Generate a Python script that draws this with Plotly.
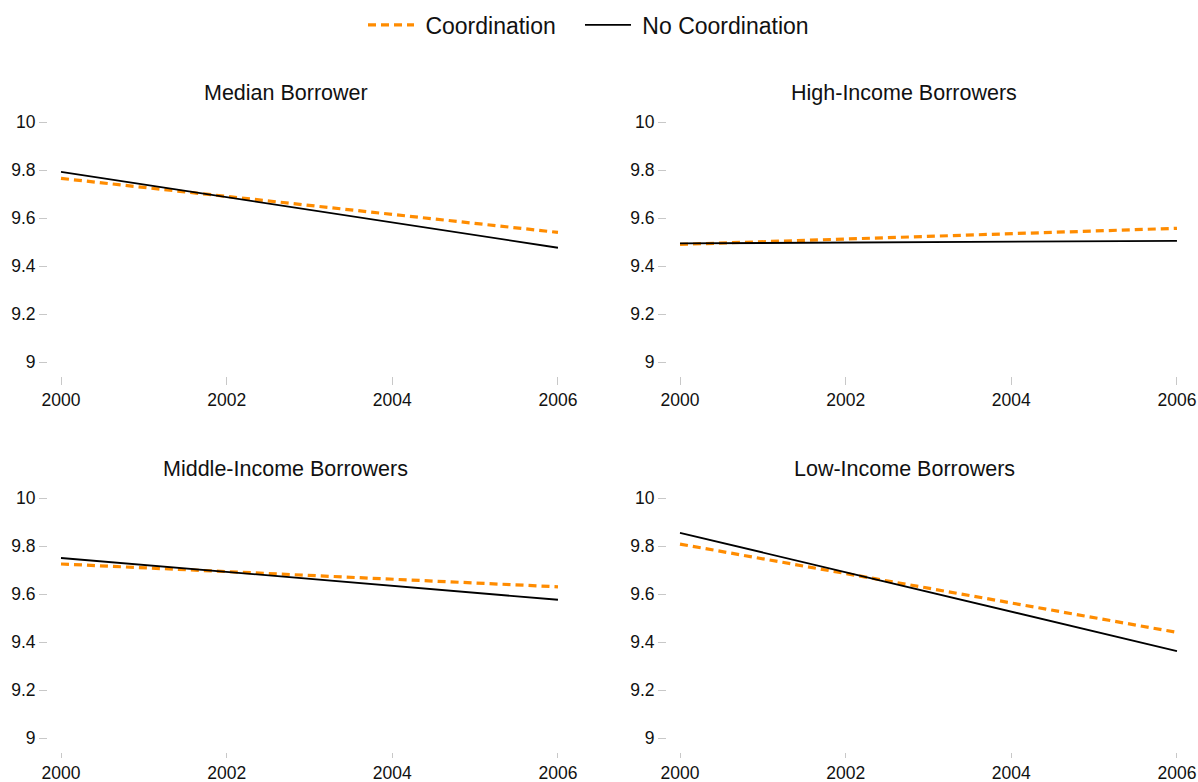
import plotly.graph_objects as go

# Fitted trend endpoints (log income-type outcome), by borrower group
years = [2000, 2006]
panels = ["Median Borrower", "High-Income Borrowers",
          "Middle-Income Borrowers", "Low-Income Borrowers"]

coord_median = [9.765, 9.540]
nocoord_median = [9.792, 9.476]
coord_high = [9.490, 9.557]
nocoord_high = [9.494, 9.505]
coord_middle = [9.725, 9.630]
nocoord_middle = [9.750, 9.576]
coord_low = [9.808, 9.440]
nocoord_low = [9.855, 9.362]

coord_series = [coord_median, coord_high, coord_middle, coord_low]
nocoord_series = [nocoord_median, nocoord_high, nocoord_middle, nocoord_low]

y_ticks = [9, 9.2, 9.4, 9.6, 9.8, 10]
y_ticktext = ["9", "9.2", "9.4", "9.6", "9.8", "10"]
x_ticks = [2000, 2002, 2004, 2006]

ORANGE = "#FF8C00"
FONT = "Liberation Sans, Arial, sans-serif"
NBSP = "\u00a0"

W, H = 1198, 782
# plot-area rectangles in pixels: (left, right, top, bottom)
boxes = [(48, 566, 110, 376), (667, 1185, 110, 376),
         (48, 566, 486, 752), (667, 1185, 486, 752)]
title_pos = [(285.5, 93), (904, 93), (285.5, 469), (904, 469)]
x_ticklen = [8, 8, 5, 5]

fig = go.Figure()
layout = dict(
    width=W, height=H,
    margin=dict(l=0, r=0, t=0, b=0, autoexpand=False),
    paper_bgcolor="white", plot_bgcolor="white",
    font=dict(family=FONT, color="#111111", size=17.5),
    showlegend=True,
    legend=dict(orientation="h", x=363 / W, xanchor="left",
                y=1 - 25 / H, yanchor="middle",
                font=dict(size=23), itemwidth=46),
    annotations=[],
)

for i in range(4):
    sfx = "" if i == 0 else str(i + 1)
    left, right, top, bottom = boxes[i]
    fig.add_trace(go.Scatter(
        x=years, y=coord_series[i], mode="lines",
        name=NBSP + "Coordination" + NBSP * 3,
        line=dict(color=ORANGE, width=3.2, dash="8px,5px"),
        xaxis="x" + sfx, yaxis="y" + sfx, showlegend=(i == 0),
        legendgroup="c"))
    fig.add_trace(go.Scatter(
        x=years, y=nocoord_series[i], mode="lines",
        name=NBSP + "No Coordination",
        line=dict(color="black", width=1.8),
        xaxis="x" + sfx, yaxis="y" + sfx, showlegend=(i == 0),
        legendgroup="n"))

    layout["xaxis" + sfx] = dict(
        domain=[left / W, right / W], anchor="y" + sfx, automargin=False,
        range=[1999.843, 2006.097], tickvals=x_ticks,
        ticks="outside", ticklen=x_ticklen[i], tickcolor="#c8c8c8",
        tickwidth=1, showgrid=False, zeroline=False, showline=False,
        tickfont=dict(size=17.5))
    layout["yaxis" + sfx] = dict(
        domain=[1 - bottom / H, 1 - top / H], anchor="x" + sfx,
        automargin=False,
        range=[8.9417, 10.05], tickvals=y_ticks, ticktext=y_ticktext,
        ticks="outside", ticklen=8, tickcolor="#c8c8c8", tickwidth=1,
        showgrid=False, zeroline=False, showline=False,
        tickfont=dict(size=17.5))
    tx, ty = title_pos[i]
    layout["annotations"].append(dict(
        text=panels[i], x=tx / W, y=1 - ty / H, xref="paper", yref="paper",
        xanchor="center", yanchor="middle", showarrow=False,
        font=dict(size=21.5, family=FONT, color="#111111")))

fig.update_layout(**layout)
fig.write_html("out.html")
